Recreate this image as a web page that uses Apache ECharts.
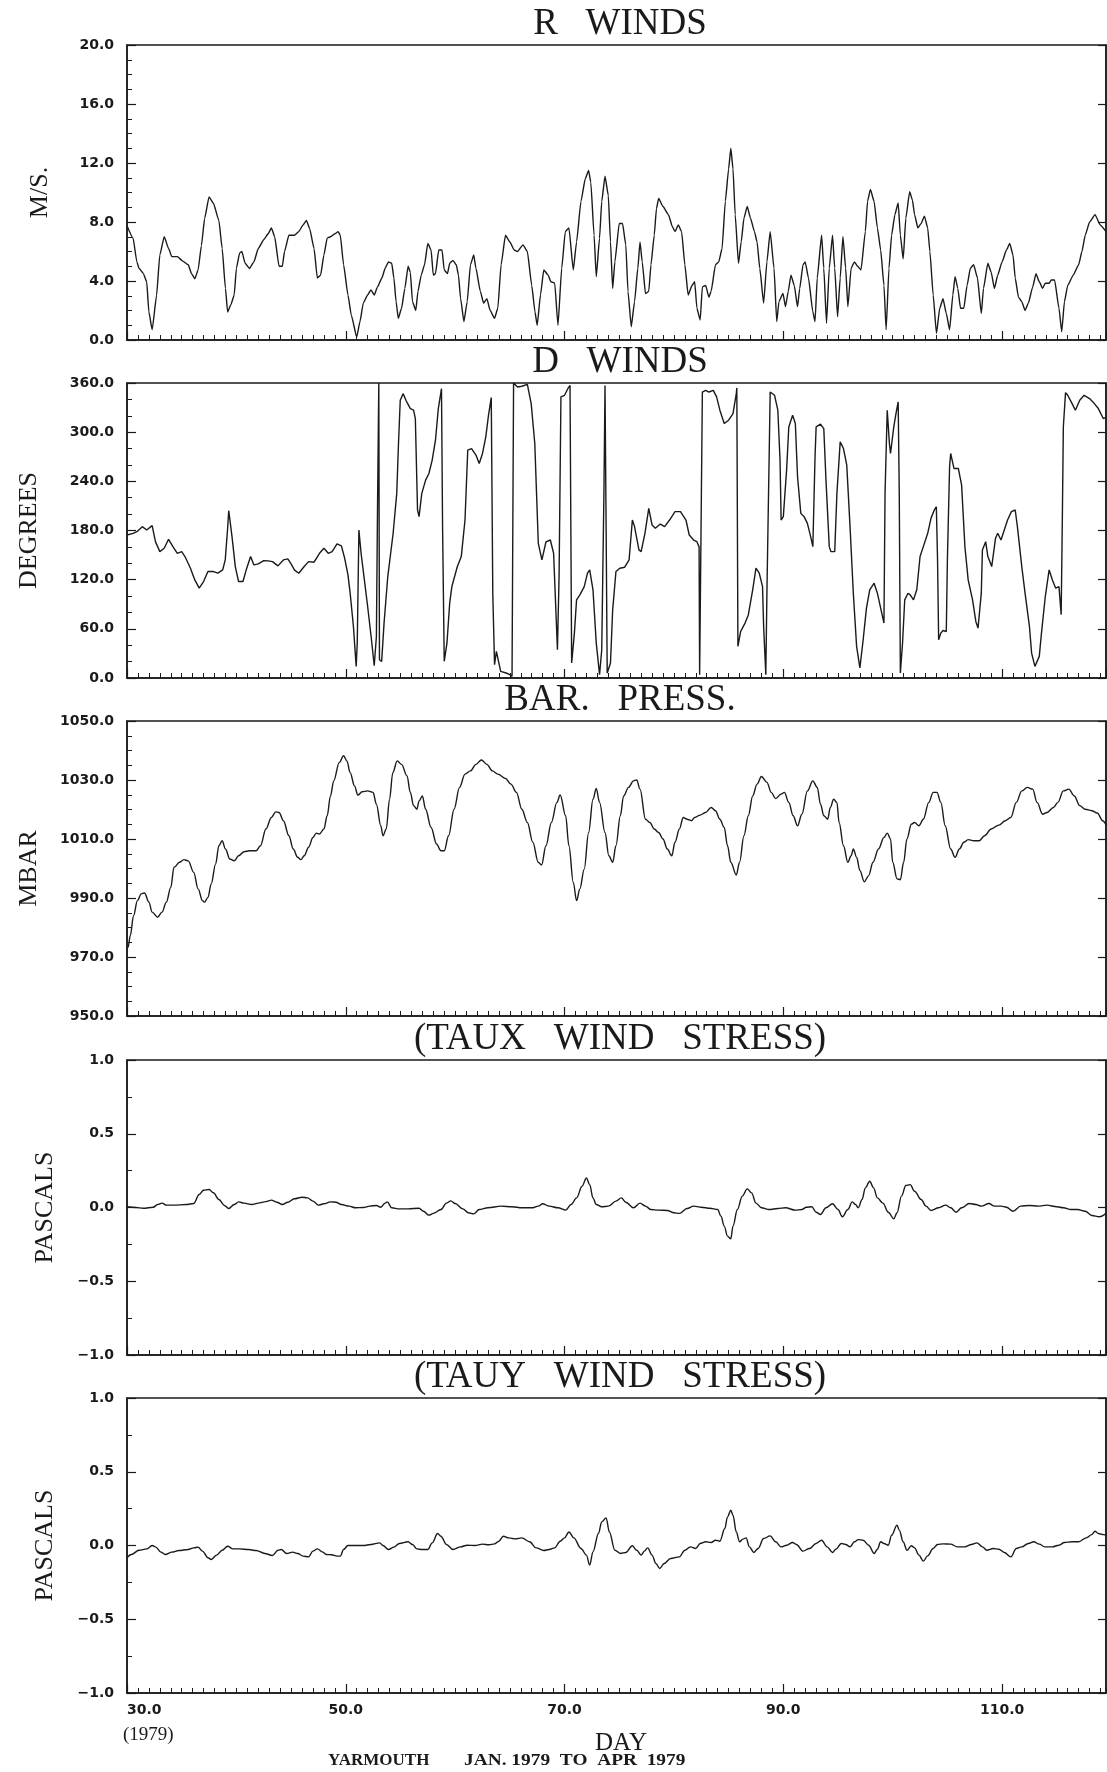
<!DOCTYPE html>
<html><head><meta charset="utf-8">
<script src="https://cdn.jsdelivr.net/npm/echarts@6.0.0/dist/echarts.min.js"></script>
<style>html,body{margin:0;padding:0;background:#fff;}#c{width:1107px;height:1772px;}</style>
</head><body><div id="c"></div>
<script>
// ---------- data (day of 1979, value) ----------
const panelTitles = ['R   WINDS', 'D   WINDS', 'BAR.   PRESS.', '(TAUX   WIND   STRESS)', '(TAUY   WIND   STRESS)'];
const panelUnits = ['M/S.', 'DEGREES', 'MBAR', 'PASCALS', 'PASCALS'];
const xTickLabels = ['30.0', '50.0', '70.0', '90.0', '110.0'];
const yRanges = [[0, 20, 4, 4], [0, 360, 60, 3], [950, 1050, 20, 4], [-1, 1, 0.5, 2], [-1, 1, 0.5, 2]];

const rWinds = [[30,7.75],[30.56,6.9],[30.9,5.3],[31.1,4.86],[31.5,4.5],[31.8,3.95],[32.0,1.9],[32.3,0.7],[32.7,3.0],[33.0,5.76],[33.4,7.0],[33.8,6.2],[34.1,5.65],[34.6,5.65],[35.1,5.35],[35.6,5.1],[35.9,4.5],[36.2,4.15],[36.5,4.75],[36.8,6.4],[37.1,8.25],[37.5,9.7],[37.9,9.27],[38.4,8.1],[38.7,6.2],[39.0,3.5],[39.2,1.9],[39.5,2.4],[39.8,3.05],[40.0,4.85],[40.3,5.9],[40.5,6.0],[40.8,5.2],[41.2,4.85],[41.6,5.3],[42.0,6.2],[42.5,6.8],[42.9,7.2],[43.2,7.6],[43.5,7.0],[43.9,5.0],[44.2,5.0],[44.4,6.0],[44.8,7.1],[45.3,7.1],[45.7,7.35],[46.1,7.8],[46.4,8.1],[46.7,7.55],[47.1,6.2],[47.4,4.2],[47.7,4.4],[48.0,5.76],[48.3,6.9],[48.6,7.0],[49.0,7.2],[49.3,7.35],[49.5,7.1],[49.8,5.1],[50.2,3.05],[50.5,1.7],[51.0,0.2],[51.3,1.25],[51.6,2.5],[52.0,3.05],[52.3,3.4],[52.6,3.05],[52.9,3.6],[53.3,4.2],[53.6,4.86],[53.9,5.3],[54.2,5.2],[54.4,4.2],[54.6,2.6],[54.8,1.47],[55.1,2.15],[55.4,3.5],[55.7,5.0],[55.9,4.6],[56.1,2.6],[56.4,2.0],[56.6,3.3],[56.9,4.4],[57.2,5.1],[57.5,6.55],[57.8,6.1],[58.0,4.4],[58.2,4.5],[58.5,6.1],[58.8,6.1],[59.0,4.75],[59.3,4.5],[59.5,5.2],[59.8,5.4],[60.1,5.1],[60.3,4.4],[60.5,2.8],[60.8,1.25],[61.1,2.6],[61.4,5.1],[61.7,5.76],[61.9,4.86],[62.3,3.3],[62.6,2.5],[62.9,2.8],[63.2,2.0],[63.6,1.47],[63.9,2.15],[64.2,5.1],[64.6,7.1],[65.0,6.65],[65.4,6.1],[65.7,6.0],[66.2,6.45],[66.6,6.0],[67.0,3.7],[67.3,1.9],[67.5,1.0],[67.8,3.05],[68.1,4.75],[68.5,4.4],[68.76,3.95],[69.1,3.85],[69.4,1.0],[69.74,4.86],[70.07,7.35],[70.4,7.6],[70.8,4.75],[71.1,6.65],[71.5,9.4],[71.9,10.95],[72.2,11.5],[72.4,10.7],[72.7,7.1],[72.9,4.3],[73.2,6.9],[73.4,9.4],[73.7,11.1],[74.0,9.8],[74.2,6.65],[74.4,3.5],[74.6,5.3],[75.0,7.9],[75.3,7.9],[75.6,6.45],[75.8,3.3],[76.1,0.9],[76.4,2.6],[76.7,4.86],[76.9,6.65],[77.1,5.3],[77.4,3.15],[77.7,3.3],[77.9,5.1],[78.2,7.1],[78.4,8.9],[78.6,9.6],[79.0,9.05],[79.5,8.5],[79.85,7.7],[80.1,7.35],[80.4,7.8],[80.7,7.35],[81.0,5.1],[81.3,3.05],[81.65,3.7],[81.9,3.95],[82.1,2.15],[82.4,1.36],[82.6,3.6],[82.9,3.7],[83.2,2.9],[83.4,3.3],[83.8,5.1],[84.1,5.3],[84.4,6.2],[84.7,9.4],[85.0,11.6],[85.2,13.0],[85.4,11.6],[85.6,8.5],[85.9,5.2],[86.15,6.65],[86.4,8.25],[86.7,9.05],[87.0,8.25],[87.36,7.35],[87.6,6.65],[87.85,4.86],[88.2,2.5],[88.5,5.3],[88.8,7.35],[89.15,4.86],[89.4,1.25],[89.6,2.6],[89.97,3.15],[90.2,2.26],[90.45,3.3],[90.7,4.4],[91.0,3.7],[91.3,2.26],[91.5,3.5],[91.8,5.1],[92.0,5.3],[92.3,4.2],[92.7,1.9],[92.9,1.25],[93.1,4.2],[93.5,7.1],[93.7,4.86],[93.95,1.13],[94.2,4.86],[94.5,7.1],[94.7,4.86],[94.96,1.58],[95.2,4.2],[95.45,7.0],[95.7,4.86],[95.9,2.26],[96.2,4.86],[96.5,5.3],[96.8,5.0],[97.1,4.75],[97.5,7.35],[97.7,9.4],[97.96,10.2],[98.3,9.4],[98.6,7.6],[98.9,6.1],[99.2,3.7],[99.4,0.7],[99.66,4.86],[99.9,7.1],[100.2,8.5],[100.5,9.3],[100.7,7.1],[100.96,5.5],[101.2,8.25],[101.55,10.05],[101.8,9.5],[102.0,8.5],[102.3,7.6],[102.6,7.9],[102.9,8.4],[103.2,7.6],[103.4,6.0],[103.7,3.05],[104.0,0.45],[104.3,2.15],[104.6,2.8],[104.9,1.8],[105.2,0.7],[105.5,3.05],[105.7,4.3],[105.95,3.5],[106.2,2.15],[106.5,2.15],[106.8,3.7],[107.1,4.86],[107.4,5.1],[107.75,4.2],[108.1,1.8],[108.3,3.5],[108.7,5.2],[109.0,4.6],[109.3,3.5],[109.6,4.4],[110.0,5.3],[110.4,6.1],[110.7,6.55],[111.0,5.76],[111.2,4.2],[111.5,2.9],[111.8,2.6],[112.1,2.0],[112.4,2.5],[112.8,3.6],[113.1,4.5],[113.4,3.95],[113.7,3.5],[113.95,3.85],[114.3,3.85],[114.5,4.07],[114.8,4.07],[115.2,2.15],[115.45,0.56],[115.7,2.6],[116.0,3.7],[116.5,4.4],[117.0,5.1],[117.3,6.0],[117.6,7.1],[118.0,8.0],[118.5,8.5],[118.97,7.8],[119.5,7.35]];

const dWinds = [[30,174.5],[30.56,176.5],[30.9,178.6],[31.4,184.7],[31.8,180.6],[32.3,185.9],[32.6,166.4],[33.0,154.2],[33.4,158.3],[33.8,169.3],[34.2,160.3],[34.6,152.2],[35.0,154.2],[35.3,148.2],[35.8,134],[36.2,119.7],[36.6,109.6],[37.0,117.7],[37.4,129.9],[37.9,129.9],[38.3,127.9],[38.75,132],[38.98,144.1],[39.2,182.7],[39.3,204.2],[39.6,172.5],[39.9,136],[40.2,117.7],[40.6,117.7],[40.9,132],[41.3,148.2],[41.6,138],[42.0,139.2],[42.5,143.3],[42.9,142.9],[43.3,142],[43.8,136.8],[44.3,144.1],[44.7,145.3],[45.0,139.2],[45.3,132],[45.7,127.9],[46.2,136],[46.6,142],[47.1,141.3],[47.6,152.2],[48.0,158.3],[48.4,152.2],[48.75,154.2],[49.2,163.6],[49.6,161.2],[49.9,146.1],[50.2,125.8],[50.4,103.5],[50.7,62.9],[50.95,14.2],[51.05,42.6],[51.2,180.6],[51.4,152.2],[51.7,119.7],[52.0,87.3],[52.35,46.7],[52.6,15],[52.8,50.7],[52.9,205],[53.02,360],[53.08,22.3],[53.28,20.3],[53.5,67],[53.84,123.8],[54.33,176.6],[54.66,225.3],[54.82,286.2],[54.98,338.9],[55.25,347],[55.5,339],[55.9,328.8],[56.2,326.8],[56.36,316.6],[56.56,205],[56.7,196.9],[56.95,225.3],[57.3,241.5],[57.6,249.6],[57.9,265.9],[58.2,290.2],[58.46,328.8],[58.75,353.1],[58.85,184.7],[59.0,20.3],[59.25,42.6],[59.5,91.3],[59.7,111.6],[60.2,136],[60.56,148.2],[60.9,192.8],[61.15,278],[61.5,280],[61.9,272],[62.2,261.8],[62.5,274],[62.8,294.3],[63.05,320.7],[63.3,342.2],[63.44,103.5],[63.6,16.2],[63.77,32.5],[63.9,30.4],[64.16,8.1],[64.66,6.1],[65.0,4.1],[65.2,2.0],[65.34,360],[65.47,358.4],[65.7,355.2],[66.1,356],[66.6,358.4],[66.95,334.9],[67.28,286.2],[67.44,225.3],[67.6,164.4],[67.93,144.1],[68.3,166],[68.7,168.4],[69.0,152.2],[69.35,34.5],[69.5,123.8],[69.67,343],[70.0,345],[70.3,353],[70.5,357],[70.65,18.3],[70.9,54.8],[71.1,95.4],[71.4,101.5],[71.8,111.6],[72.1,127.9],[72.3,131.9],[72.6,107.6],[72.9,42.6],[73.2,4.1],[73.4,34.5],[73.6,225.3],[73.7,357],[73.8,184.7],[73.9,6.1],[74.2,18.3],[74.4,83.2],[74.7,129.9],[75.05,134],[75.5,135.2],[75.9,144.1],[76.2,192.8],[76.4,184.7],[76.8,156.3],[77.0,154.2],[77.35,176.6],[77.7,207],[78.0,186.7],[78.3,182.7],[78.75,187.9],[79.15,184.7],[79.6,192.8],[80.1,203],[80.6,203],[81.1,192.8],[81.4,174.5],[81.8,168.4],[82.1,166.4],[82.3,160],[82.35,4.1],[82.6,349],[82.9,351],[83.2,349],[83.6,351],[83.9,343],[84.2,326.8],[84.6,310.5],[85.0,314.6],[85.4,322.7],[85.7,347],[85.75,354],[85.85,38.6],[86.1,56.8],[86.5,67],[86.8,77],[87.2,107.6],[87.5,134],[87.8,127.9],[88.1,111.6],[88.2,62.9],[88.4,4.1],[88.5,103.5],[88.7,265.9],[88.8,349],[89.2,345],[89.5,326.8],[89.7,265.9],[89.8,192.8],[90.0,196.9],[90.3,253.7],[90.5,306.4],[90.85,320.7],[91.1,310.5],[91.3,245.6],[91.6,200.9],[91.9,196.9],[92.2,188.7],[92.5,172.5],[92.7,160.3],[92.9,270],[93.0,306.4],[93.4,309.7],[93.7,304.4],[93.9,241.5],[94.2,160.3],[94.35,154.2],[94.7,154.2],[94.9,225.3],[95.2,288.2],[95.5,280],[95.8,259.8],[96.1,184.7],[96.4,103.5],[96.7,38.6],[97.0,12.2],[97.3,46.7],[97.6,85.2],[97.9,107.6],[98.3,115.7],[98.6,103.5],[98.9,85.2],[99.2,67],[99.3,225.3],[99.5,326.8],[99.7,286.2],[99.8,274],[100.1,306.4],[100.3,322.7],[100.5,336.9],[100.6,225.3],[100.7,6.1],[100.9,42.6],[101.1,95.4],[101.4,103.5],[101.6,101.5],[101.9,95.4],[102.2,107.6],[102.5,148.2],[102.8,160.3],[103.2,176.6],[103.5,194.8],[103.8,205],[103.99,209],[104.1,144.1],[104.2,46.7],[104.4,54.8],[104.6,58],[104.9,56.8],[105.0,144.1],[105.2,257.7],[105.3,274],[105.6,255.7],[106.0,255.7],[106.3,235.4],[106.6,160.3],[106.9,119.7],[107.3,95.4],[107.6,69],[107.8,60.9],[108.1,103.5],[108.2,156.3],[108.5,166.4],[108.7,148.2],[109.05,136],[109.4,170.5],[109.6,176.6],[109.9,168.4],[110.2,180.6],[110.5,192.8],[110.85,203],[111.2,205],[111.4,184.7],[111.8,136],[112.1,103.5],[112.5,62.9],[112.7,30.4],[113.0,14.2],[113.4,26.4],[113.6,54.8],[113.95,99.4],[114.3,131.9],[114.6,119.7],[114.9,109.6],[115.2,111.6],[115.4,77.1],[115.5,184.7],[115.6,306.4],[115.8,348.3],[116.0,345],[116.4,334.9],[116.7,326.8],[117.1,338.9],[117.5,345],[118.0,341],[118.3,336.9],[118.8,328.8],[119.25,316.6],[119.5,318]];

const barPress = [[30,973],[30.1,973.3],[30.3,977.3],[30.6,984],[30.95,989.1],[31.3,991.4],[31.6,991.7],[32.0,988.6],[32.3,985.2],[32.8,983.5],[33.2,985.2],[33.6,988.6],[34.0,993.6],[34.3,1000.4],[34.8,1002.1],[35.2,1003],[35.6,1002.6],[36.1,998.7],[36.5,993.1],[36.9,989.1],[37.1,988.6],[37.4,990.2],[37.7,994.8],[38.1,1001.5],[38.4,1007.7],[38.7,1009.4],[39.0,1006.6],[39.4,1003.2],[39.8,1002.6],[40.2,1004.3],[40.7,1005.7],[41.2,1006],[41.8,1006],[42.2,1007.7],[42.7,1013.4],[43.2,1017.3],[43.6,1019.2],[43.9,1019],[44.3,1016.2],[44.8,1011.1],[45.2,1006.6],[45.6,1003.8],[45.9,1003],[46.2,1004.3],[46.6,1007.2],[47.0,1010.5],[47.3,1012],[47.6,1011.7],[48.0,1013.4],[48.3,1017.9],[48.6,1024.6],[48.9,1029.7],[49.4,1035.9],[49.8,1038.2],[50.1,1036.5],[50.4,1032.5],[50.8,1028],[51.1,1024.9],[51.5,1026],[52.0,1026.3],[52.5,1025.8],[52.8,1021.8],[53.2,1014.5],[53.4,1011.1],[53.7,1013.4],[54.0,1023.5],[54.3,1032.5],[54.7,1036.5],[55.1,1035.3],[55.6,1031.4],[55.9,1025.8],[56.2,1021.3],[56.5,1020.1],[56.7,1022.9],[57.0,1024.6],[57.3,1020.1],[57.8,1013.9],[58.3,1008.3],[58.7,1006],[59.0,1006],[59.4,1011.1],[59.9,1020.1],[60.4,1027.5],[60.9,1032],[61.4,1033.1],[61.9,1035.3],[62.4,1036.8],[62.9,1035.3],[63.4,1033.1],[63.9,1032],[64.6,1030.5],[65.1,1028.6],[65.6,1025.8],[66.1,1020.1],[66.6,1015.6],[67.1,1008.9],[67.6,1002.1],[67.9,1001.2],[68.3,1007.7],[68.8,1015.6],[69.3,1022.4],[69.6,1024.9],[70.1,1017.9],[70.4,1007.7],[70.8,995.3],[71.1,989.1],[71.4,993.1],[71.8,999.8],[72.2,1012.2],[72.6,1023.5],[72.9,1027.1],[73.2,1022.4],[73.7,1012.2],[74.05,1004.3],[74.4,1002.1],[74.7,1007.7],[75.1,1017.9],[75.4,1024.6],[75.85,1027.5],[76.3,1029.7],[76.6,1030],[76.9,1026.9],[77.4,1016.7],[77.8,1015.6],[78.2,1013.4],[78.6,1012.2],[79.0,1010],[79.4,1006.6],[79.8,1004.3],[80.1,1008.9],[80.5,1013.4],[80.85,1017.3],[81.2,1016.7],[81.6,1016.2],[81.9,1017.3],[82.4,1018.1],[82.9,1019],[83.4,1020.7],[83.8,1019.6],[84.2,1016.7],[84.6,1013.9],[84.9,1007.7],[85.2,1002.1],[85.7,997.8],[86.0,1002.1],[86.4,1011.1],[86.8,1017.9],[87.2,1024.6],[87.6,1028.6],[88.0,1031.2],[88.5,1029.2],[88.9,1025.8],[89.3,1023.7],[89.8,1025.2],[90.1,1025.8],[90.5,1022.4],[90.9,1017.9],[91.3,1014.5],[91.7,1018.4],[92.2,1026.3],[92.7,1029.7],[93.1,1027.5],[93.4,1021.8],[93.7,1017.9],[94.05,1016.7],[94.3,1020.7],[94.6,1023.5],[94.9,1022.4],[95.1,1015.6],[95.5,1007.7],[95.9,1002.1],[96.2,1004.3],[96.4,1006.6],[96.7,1003.8],[97.0,999.3],[97.4,995.5],[97.8,997.6],[98.2,1002.1],[98.7,1006.6],[99.2,1010.5],[99.5,1012],[99.8,1010],[100.0,1002.1],[100.4,996.5],[100.7,996.2],[101.0,1002.1],[101.3,1010],[101.7,1015],[102.0,1015.6],[102.4,1014.5],[102.8,1016.7],[103.3,1022.4],[103.7,1025.8],[104.05,1025.8],[104.4,1022.4],[104.8,1014.5],[105.3,1006.6],[105.7,1003.8],[106.1,1006.6],[106.5,1008.9],[106.9,1009.8],[107.4,1009.4],[107.9,1009.4],[108.4,1011.1],[109.0,1013.4],[109.7,1014.7],[110.3,1016.2],[110.8,1017.3],[111.3,1022.4],[111.8,1026.3],[112.3,1027.5],[112.8,1026.9],[113.2,1022.4],[113.7,1018.4],[114.1,1019],[114.7,1020.7],[115.1,1022.4],[115.6,1026.3],[116.1,1026.9],[116.6,1024.6],[117.1,1021.3],[117.6,1020.1],[118.2,1019.6],[118.7,1018.8],[119.2,1016.2],[119.5,1014.8]];

const tauX = [[30,0.005],[30.8,0],[31.5,-0.005],[32.4,0.002],[32.8,0.02],[33.2,0.03],[33.6,0.016],[34.3,0.016],[35.4,0.02],[36.1,0.027],[36.6,0.088],[37.0,0.117],[37.5,0.122],[37.9,0.1],[38.4,0.054],[38.9,0.014],[39.3,-0.007],[39.8,0.02],[40.2,0.038],[40.7,0.03],[41.4,0.02],[42.0,0.03],[42.7,0.04],[43.2,0.05],[43.7,0.036],[44.2,0.02],[44.7,0.036],[45.3,0.059],[46.0,0.07],[46.5,0.065],[47.0,0.043],[47.5,0.016],[48.0,0.025],[48.6,0.038],[49.1,0.036],[49.6,0.02],[50.3,0.009],[50.9,-0.002],[51.6,0],[52.2,0.009],[52.8,0.014],[53.2,0.002],[53.6,0.03],[53.8,0.038],[54.2,-0.002],[54.9,-0.009],[55.7,-0.009],[56.7,-0.005],[57.1,-0.025],[57.6,-0.052],[58.0,-0.04],[58.7,-0.014],[59.2,0.03],[59.6,0.045],[60.0,0.027],[60.7,-0.009],[61.2,-0.036],[61.7,-0.043],[62.2,-0.014],[63.0,-0.002],[64.2,0.009],[65.2,0.005],[66.1,-0.002],[67.1,-0.002],[67.6,0.009],[68.0,0.025],[68.6,0.009],[69.4,-0.002],[70.1,-0.018],[70.6,0.02],[71.1,0.065],[71.6,0.144],[72.0,0.2],[72.3,0.155],[72.6,0.065],[72.9,0.02],[73.4,0.005],[74.0,0.009],[74.7,0.043],[75.2,0.065],[75.6,0.036],[76.3,-0.002],[76.9,0.03],[77.4,0.009],[77.9,-0.014],[78.6,-0.018],[79.4,-0.02],[80.0,-0.036],[80.5,-0.04],[81.2,-0.007],[81.8,0.009],[82.5,0.002],[83.3,-0.005],[84.0,-0.014],[84.3,-0.059],[84.6,-0.126],[84.9,-0.194],[85.2,-0.212],[85.4,-0.126],[85.8,-0.014],[86.25,0.077],[86.7,0.126],[87.1,0.099],[87.5,0.03],[88.0,-0.002],[88.7,-0.014],[89.5,-0.007],[90.2,-0.002],[91.1,-0.018],[91.7,-0.014],[92.1,0.002],[92.6,0.005],[93.0,-0.032],[93.4,-0.047],[93.9,-0.002],[94.5,0.025],[95.0,-0.014],[95.4,-0.063],[95.9,-0.014],[96.3,0.038],[96.6,0.02],[96.85,-0.002],[97.2,0.054],[97.5,0.133],[97.9,0.178],[98.25,0.133],[98.6,0.065],[99.1,0.03],[99.6,-0.032],[100.1,-0.077],[100.4,-0.036],[100.8,0.077],[101.2,0.149],[101.6,0.155],[102.0,0.11],[102.6,0.054],[103.05,0.009],[103.5,-0.02],[104.2,-0.002],[104.85,0.016],[105.3,-0.002],[105.8,-0.032],[106.3,-0.002],[107.0,0.027],[107.6,0.02],[108.1,0.009],[108.8,0.027],[109.3,0.009],[109.9,0.009],[110.4,0.002],[111.0,-0.025],[111.7,0.009],[112.5,0.014],[113.3,0.009],[114.1,0.016],[115.0,0.005],[115.6,-0.002],[116.3,-0.014],[116.9,-0.014],[117.6,-0.025],[118.2,-0.054],[118.9,-0.063],[119.5,-0.04]];

const tauY = [[30,-0.083],[30.4,-0.061],[31.1,-0.032],[31.8,-0.023],[32.3,0],[32.6,-0.009],[33.1,-0.045],[33.5,-0.061],[34.1,-0.045],[34.75,-0.034],[35.6,-0.027],[36.1,-0.016],[36.5,-0.011],[36.9,-0.038],[37.4,-0.083],[37.7,-0.095],[38.2,-0.065],[38.7,-0.032],[39.2,-0.005],[39.7,-0.023],[40.3,-0.023],[41.1,-0.027],[41.8,-0.034],[42.6,-0.054],[43.3,-0.068],[43.8,-0.032],[44.1,-0.027],[44.6,-0.054],[45.15,-0.045],[45.6,-0.054],[46.1,-0.072],[46.6,-0.077],[47.0,-0.038],[47.4,-0.023],[47.9,-0.045],[48.2,-0.061],[48.7,-0.063],[49.2,-0.072],[49.5,-0.072],[49.8,-0.027],[50.2,0],[50.8,0],[51.6,0],[52.3,0.007],[53.1,0.018],[53.4,0],[53.9,-0.027],[54.4,-0.011],[54.9,0.014],[55.7,0.025],[56.1,0.007],[56.5,-0.023],[57.0,-0.027],[57.5,-0.027],[57.9,0.018],[58.4,0.081],[58.7,0.063],[59.2,0.007],[59.8,-0.027],[60.5,-0.009],[61.1,0.002],[61.8,0],[62.5,0.009],[63.1,0.005],[63.6,0.011],[64.0,0.029],[64.4,0.063],[64.9,0.052],[65.5,0.045],[66.1,0.052],[66.8,0.025],[67.4,-0.016],[68.1,-0.034],[68.6,-0.027],[69.1,-0.016],[69.6,0.029],[70.0,0.052],[70.4,0.092],[70.85,0.052],[71.5,-0.02],[72.0,-0.065],[72.3,-0.133],[72.6,-0.043],[73.1,0.081],[73.4,0.16],[73.8,0.187],[74.1,0.092],[74.6,-0.032],[75.1,-0.054],[75.6,-0.047],[76.2,-0.002],[76.6,-0.032],[77.0,-0.065],[77.3,-0.038],[77.6,-0.016],[78.0,-0.065],[78.35,-0.122],[78.7,-0.156],[79.1,-0.122],[79.7,-0.088],[80.5,-0.077],[81.0,-0.032],[81.5,-0.009],[82.0,-0.02],[82.4,0.014],[82.9,0.025],[83.4,0.02],[83.8,0.036],[84.2,0.029],[84.65,0.115],[84.9,0.194],[85.2,0.239],[85.4,0.205],[85.7,0.092],[86.0,0.025],[86.3,0.043],[86.6,0.052],[86.9,-0.009],[87.3,-0.047],[87.7,-0.02],[88.2,0.047],[88.8,0.065],[89.3,0.025],[89.8,-0.009],[90.3,0.002],[90.85,0.02],[91.2,0.007],[91.8,-0.038],[92.4,-0.02],[93.0,0.014],[93.5,0.036],[94.0,-0.009],[94.5,-0.047],[94.8,-0.025],[95.3,0.014],[95.7,0.007],[96.1,-0.009],[96.5,0.025],[96.85,0.04],[97.3,0.036],[97.8,0.002],[98.3,-0.054],[98.6,-0.025],[98.9,0.025],[99.2,0.014],[99.6,0.002],[99.9,0.07],[100.4,0.138],[100.6,0.104],[100.96,0.025],[101.3,-0.032],[101.7,-0.002],[102.0,-0.016],[102.4,-0.065],[102.8,-0.106],[103.2,-0.07],[103.7,-0.02],[104.1,0.007],[104.6,0.011],[105.3,0.009],[105.9,-0.009],[106.6,-0.009],[107.2,0.007],[107.7,0.018],[108.2,-0.009],[108.6,-0.032],[109.2,-0.02],[109.7,-0.025],[110.2,-0.047],[110.8,-0.077],[111.3,-0.02],[111.8,-0.009],[112.4,0.014],[112.9,0.025],[113.4,0.009],[113.9,-0.009],[114.6,-0.009],[115.2,0.002],[115.7,0.02],[116.4,0.025],[117.0,0.025],[117.7,0.052],[118.2,0.074],[118.5,0.097],[118.8,0.081],[119.3,0.074],[119.5,0.07]];

const seriesData = [rWinds, dWinds, barPress, tauX, tauY];

// ---------- layout ----------
const INK = '#1a1a1a';
const gridLeft = 127, gridWidth = 979, gridHeight = 295;
const gridTops = [45, 383, 721, 1060, 1398];
const unitX = [40, 29, 29, 45, 45];
const smoothing = [0.15, false, 0.35, 0.35, 0.35];

const fmtY = v => v.toFixed(1).replace('-', '\u2212');
const fmtX = v => { const i = Math.round((v - 30) / 20); return (Math.abs(v - 30 - i * 20) < 1e-6 && i >= 0 && i < xTickLabels.length) ? xTickLabels[i] : ''; };
const tickFont = { color: INK, fontFamily: 'DejaVu Sans', fontSize: 14, fontWeight: 'bold' };

const grid = [], xAxis = [], yAxis = [], series = [], graphic = [];
gridTops.forEach((top, i) => {
  grid.push({ left: gridLeft, top: top, width: gridWidth, height: gridHeight, show: true, borderColor: INK, borderWidth: 1.5, backgroundColor: 'transparent' });
  const last = i === gridTops.length - 1;
  xAxis.push({
    type: 'value', gridIndex: i, min: 30, max: 119.5, interval: 20, position: 'bottom',
    axisLine: { show: true, onZero: false, lineStyle: { color: INK, width: 1.5 } },
    axisTick: { show: true, inside: true, length: 9, lineStyle: { color: INK, width: 1.2 } },
    axisLabel: Object.assign({ show: last, formatter: fmtX, margin: 10, alignMinLabel: 'left', showMaxLabel: false }, tickFont),
    splitLine: { show: false }
  });
  xAxis.push({
    type: 'value', gridIndex: i, min: 30, max: 119.5, interval: 1, position: 'bottom',
    axisLine: { show: false, onZero: false },
    axisTick: { show: true, inside: true, length: 5, lineStyle: { color: INK, width: 1 } },
    axisLabel: { show: false }, splitLine: { show: false }
  });
  const [mn, mx, iv, sp] = yRanges[i];
  yAxis.push({
    type: 'value', gridIndex: i, min: mn, max: mx, interval: iv, position: 'left',
    axisLine: { show: true, onZero: false, lineStyle: { color: INK, width: 1.5 } },
    axisTick: { show: true, inside: true, length: 9, lineStyle: { color: INK, width: 1.2 } },
    minorTick: { show: true, splitNumber: sp, length: 5, lineStyle: { color: INK, width: 1 } },
    axisLabel: Object.assign({ formatter: fmtY, margin: 13 }, tickFont),
    splitLine: { show: false }, minorSplitLine: { show: false }
  });
  yAxis.push({
    type: 'value', gridIndex: i, min: mn, max: mx, interval: iv, position: 'right',
    axisLine: { show: true, onZero: false, lineStyle: { color: INK, width: 1.5 } },
    axisTick: { show: true, inside: true, length: 8, lineStyle: { color: INK, width: 1.2 } },
    axisLabel: { show: false }, splitLine: { show: false }
  });
  series.push({
    type: 'line', xAxisIndex: 2 * i, yAxisIndex: 2 * i, data: seriesData[i],
    showSymbol: false, symbol: 'none', smooth: smoothing[i], smoothMonotone: 'x',
    lineStyle: { color: INK, width: 1.4 }, animation: false, silent: true, clip: true
  });
  graphic.push({ type: 'text', x: 620, y: top - 21, silent: true,
    style: { text: panelTitles[i], font: '37px "Liberation Serif"', fill: INK, textAlign: 'center', textVerticalAlign: 'middle' } });
  graphic.push({ type: 'text', x: unitX[i], y: top + gridHeight / 2, rotation: Math.PI / 2, silent: true,
    style: { text: panelUnits[i], font: '26px "Liberation Serif"', fill: INK, textAlign: 'center', textVerticalAlign: 'middle' } });
});

graphic.push({ type: 'text', x: 123, y: 1735, silent: true,
  style: { text: '(1979)', font: '19px "Liberation Serif"', fill: INK, textAlign: 'left', textVerticalAlign: 'middle' } });
graphic.push({ type: 'text', x: 621, y: 1743, silent: true,
  style: { text: 'DAY', font: '25px "Liberation Serif"', fill: INK, textAlign: 'center', textVerticalAlign: 'middle' } });
graphic.push({ type: 'text', x: 328, y: 1761, silent: true,
  style: { text: 'YARMOUTH', font: 'bold 17px "Liberation Serif"', fill: INK, textAlign: 'left', textVerticalAlign: 'middle' } });
graphic.push({ type: 'text', x: 464, y: 1761, scaleX: 1.14, silent: true,
  style: { text: 'JAN. 1979  TO  APR  1979', font: 'bold 17px "Liberation Serif"', fill: INK, textAlign: 'left', textVerticalAlign: 'middle' } });

const chart = echarts.init(document.getElementById('c'), null, { renderer: 'canvas' });
chart.setOption({ backgroundColor: '#ffffff', animation: false, grid, xAxis, yAxis, series, graphic });
</script></body></html>
